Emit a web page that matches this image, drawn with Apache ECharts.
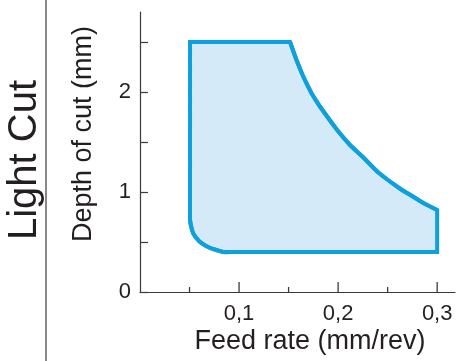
<!DOCTYPE html>
<html>
<head>
<meta charset="utf-8">
<script src="https://cdn.jsdelivr.net/npm/echarts@6/dist/echarts.min.js"></script>
<style>html,body{margin:0;padding:0;background:#fff}#c{width:462px;height:361px}</style>
</head>
<body>
<div id="c"></div>
<script>
// Boundary of the recommended region (feed rate mm/rev, depth of cut mm), clockwise
const feedRate = [0.0505, 0.1515, 0.158, 0.165, 0.173, 0.182, 0.199, 0.212, 0.225, 0.24, 0.253, 0.263, 0.273, 0.286, 0.300, 0.300, 0.091, 0.084, 0.077, 0.0707, 0.065, 0.0606, 0.0565, 0.0535, 0.0515, 0.0505];
const depthOfCut = [2.5, 2.5, 2.32, 2.15, 1.99, 1.85, 1.62, 1.47, 1.35, 1.2, 1.10, 1.03, 0.97, 0.89, 0.82, 0.40, 0.40, 0.40, 0.42, 0.44, 0.47, 0.50, 0.545, 0.59, 0.66, 0.72];
const xMajorTicks = [0.1, 0.2, 0.3];
const xMinorTicks = [0.05, 0.15, 0.25];
const yTicks = [0, 0.5, 1, 1.5, 2, 2.5];
const yLabels = [0, 1, 2];
const title = 'Light Cut';
const xName = 'Feed rate (mm/rev)';
const yName = 'Depth of cut (mm)';

const FONT = '"Liberation Sans", Arial, sans-serif';
const TXT = '#231f20';
const AX = '#3a3a3a';
const LINE = '#0ea0dc';
const points = feedRate.map((x, i) => [x, depthOfCut[i]]);
// curved parts of the outline (index ranges in the arrays above)
const curveSegments = [[1, 14], [16, 25]];

const chart = echarts.init(document.getElementById('c'), null, {renderer: 'canvas'});
chart.setOption({
  animation: false,
  grid: {left: 140, top: 12, width: 315, height: 280, containLabel: false},
  xAxis: {
    type: 'value', min: 0, max: 0.318, position: 'bottom',
    axisLine: {show: true, onZero: false, lineStyle: {color: AX, width: 1.2}},
    splitLine: {show: false},
    axisTick: {show: false},
    axisLabel: {show: true, customValues: xMajorTicks, margin: 11, fontSize: 22, fontFamily: FONT, color: TXT,
      formatter: v => String(Math.round(v * 10) / 10).replace('.', ',')}
  },
  yAxis: {
    type: 'value', min: 0, max: 2.8,
    axisLine: {show: true, onZero: false, lineStyle: {color: AX, width: 1.2}},
    axisTick: {show: true, inside: true, length: 8, lineStyle: {color: AX, width: 1.2}, customValues: yTicks},
    axisLabel: {show: true, customValues: yLabels, margin: 9, fontSize: 22, fontFamily: FONT, color: TXT},
    splitLine: {show: false}
  },
  graphic: [
    {type: 'line', shape: {x1: 46, y1: 0, x2: 46, y2: 361}, style: {stroke: AX, lineWidth: 1.2}, silent: true},
    {type: 'text', x: 25, y: 160, rotation: Math.PI / 2,
      style: {text: title, font: '40px ' + FONT, fill: TXT, textAlign: 'center', textVerticalAlign: 'middle'}},
    {type: 'text', x: 84, y: 134, rotation: Math.PI / 2,
      style: {text: yName, font: '27px ' + FONT, fill: TXT, textAlign: 'center', textVerticalAlign: 'middle'}},
    {type: 'text', x: 310, y: 342,
      style: {text: xName, font: '27px ' + FONT, fill: TXT, textAlign: 'center', textVerticalAlign: 'middle'}}
  ],
  series: [
    {
      type: 'custom',
      coordinateSystem: 'cartesian2d',
      clip: false,
      data: points,
      z: 2,
      renderItem: function (params, api) {
        if (params.dataIndex !== 0) return null;
        const pts = points.map(p => api.coord(p));
        const children = [{
          type: 'polygon',
          shape: {points: pts},
          style: {fill: '#d5eaf9', stroke: LINE, lineWidth: 4, lineJoin: 'miter'}
        }];
        curveSegments.forEach(([a, b]) => {
          children.push({
            type: 'polyline',
            shape: {points: pts.slice(a, b + 1), smooth: 0.35},
            style: {fill: null, stroke: LINE, lineWidth: 4, lineCap: 'butt'}
          });
        });
        // x-axis tick marks, placed through the x scale
        const addTick = (v, len) => {
          const p = api.coord([v, 0]);
          children.push({
            type: 'line',
            shape: {x1: p[0], y1: p[1], x2: p[0], y2: p[1] - len},
            style: {stroke: AX, lineWidth: 1.3}
          });
        };
        xMajorTicks.forEach(v => addTick(v, 10));
        xMinorTicks.forEach(v => addTick(v, 5));
        return {type: 'group', children: children};
      }
    }
  ]
});
</script>
</body>
</html>
